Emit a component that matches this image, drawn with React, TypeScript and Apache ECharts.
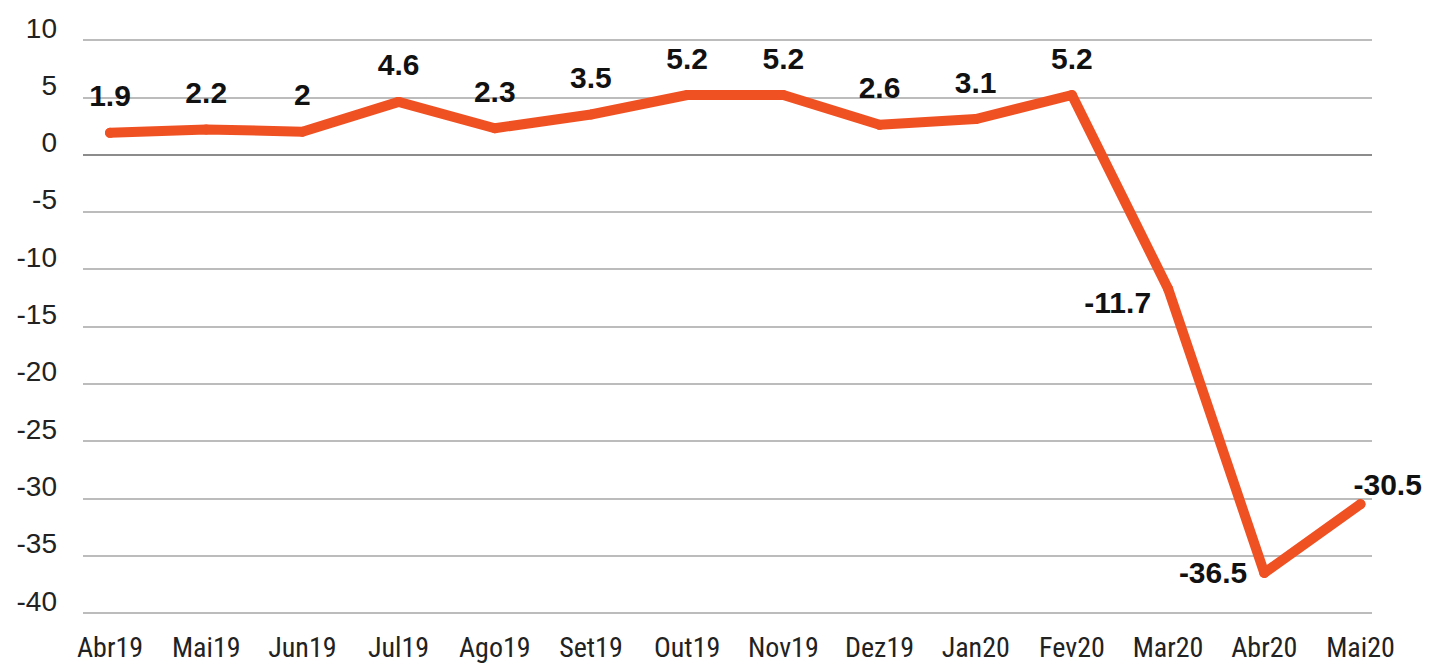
import React, { useEffect, useRef } from "react";
import * as echarts from "echarts";

const categories = ["Abr19", "Mai19", "Jun19", "Jul19", "Ago19", "Set19", "Out19", "Nov19", "Dez19", "Jan20", "Fev20", "Mar20", "Abr20", "Mai20"];
const values = [1.9, 2.2, 2, 4.6, 2.3, 3.5, 5.2, 5.2, 2.6, 3.1, 5.2, -11.7, -36.5, -30.5];
const yTicks = { min: -40, max: 10, interval: 5 };

const LINE_COLOR = "#F05123";
const FONT = "'Liberation Sans', Arial, sans-serif";
const NARROW = "'Liberation Sans Narrow', 'Roboto Condensed', 'DejaVu Sans Condensed', sans-serif";

export default function App() {
  const ref = useRef<HTMLDivElement>(null);
  useEffect(() => {
    if (!ref.current) return;
    const chart = echarts.init(ref.current, null, { renderer: "svg" });
    const data = values.map((v, i) => {
      const item: any = { value: [i, v] };
      if (v === -11.7) item.label = { position: "left", distance: 12, offset: [0, 14] };
      if (v === -36.5) item.label = { position: "left", distance: 12 };
      if (v === -30.5) item.label = { position: "right", distance: -12, offset: [0, -20] };
      return item;
    });
    chart.setOption({
      animation: false,
      backgroundColor: "#ffffff",
      grid: { left: 83, right: 63, top: 40, bottom: 51, containLabel: false },
      xAxis: {
        type: "value",
        min: -0.281,
        max: 13.12,
        splitLine: { show: false },
        axisLine: { show: false },
        axisTick: { show: false },
        axisLabel: {
          customValues: categories.map((_, i) => i),
          formatter: (v: number) => categories[Math.round(v)] ?? "",
          fontFamily: NARROW,
          fontSize: 28,
          lineHeight: 28,
          color: "#222222",
          margin: 20,
        },
      },
      yAxis: {
        type: "value",
        min: yTicks.min,
        max: yTicks.max,
        interval: yTicks.interval,
        axisLine: { show: false },
        axisTick: { show: false },
        splitLine: { lineStyle: { color: "#a6a6a6", width: 1.5 } },
        axisLabel: {
          fontFamily: FONT,
          fontSize: 28,
          color: "#222222",
          margin: 26,
          verticalAlign: "bottom",
          lineHeight: 24,
        },
      },
      series: [
        {
          type: "line",
          data,
          symbol: "circle",
          symbolSize: 10,
          itemStyle: { color: LINE_COLOR, borderWidth: 0 },
          lineStyle: { color: LINE_COLOR, width: 10, join: "round", cap: "round" },
          label: {
            show: true,
            position: "top",
            distance: 17,
            fontFamily: FONT,
            fontSize: 30,
            fontWeight: "bold",
            color: "#111111",
            formatter: (p: any) => String(p.value[1]),
          },
          markLine: {
            silent: true,
            symbol: "none",
            label: { show: false },
            lineStyle: { color: "#8c8c8c", width: 2.2, type: "solid" },
            data: [{ yAxis: 0 }],
          },
          z: 5,
        },
      ],
    });
    return () => chart.dispose();
  }, []);
  return <div ref={ref} style={{ position: "fixed", left: 0, top: 0, width: 1435, height: 664 }} />;
}
